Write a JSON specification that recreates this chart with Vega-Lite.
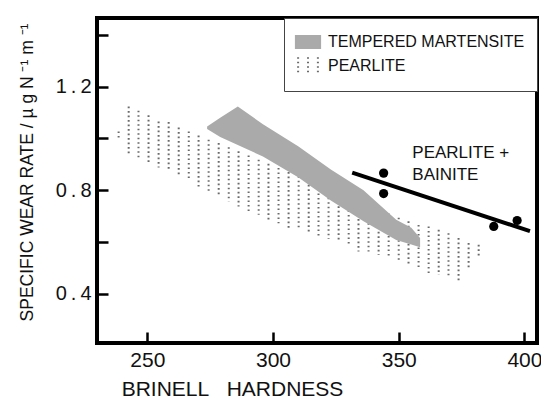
{
  "$schema": "https://vega.github.io/schema/vega-lite/v6.json",
  "width": 440,
  "height": 325,
  "autosize": "none",
  "padding": {"left": 97, "top": 18, "right": 4, "bottom": 56},
  "background": "white",
  "config": {
    "view": {"stroke": "black", "strokeWidth": 4},
    "font": "Liberation Sans",
    "axis": {
      "domain": false,
      "grid": false,
      "ticks": true,
      "tickColor": "black",
      "tickWidth": 2.5,
      "tickSize": 11,
      "offset": -11,
      "labelColor": "#111111",
      "titleColor": "#111111",
      "labelFont": "Liberation Sans",
      "titleFont": "Liberation Sans",
      "titleFontWeight": "normal"
    }
  },
  "datasets": {
    "pearlite": [
      {"hb": 238.6, "top": 1.027, "bottom": 1.001},
      {"hb": 242.6, "top": 1.123, "bottom": 0.943},
      {"hb": 246.5, "top": 1.107, "bottom": 0.924},
      {"hb": 250.5, "top": 1.089, "bottom": 0.905},
      {"hb": 254.5, "top": 1.065, "bottom": 0.888},
      {"hb": 258.5, "top": 1.063, "bottom": 0.872},
      {"hb": 262.5, "top": 1.042, "bottom": 0.853},
      {"hb": 266.5, "top": 1.027, "bottom": 0.84},
      {"hb": 270.4, "top": 1.011, "bottom": 0.814},
      {"hb": 274.4, "top": 0.995, "bottom": 0.795},
      {"hb": 278.4, "top": 0.982, "bottom": 0.776},
      {"hb": 282.4, "top": 0.966, "bottom": 0.756},
      {"hb": 286.3, "top": 0.95, "bottom": 0.737},
      {"hb": 290.3, "top": 0.934, "bottom": 0.718},
      {"hb": 294.3, "top": 0.918, "bottom": 0.705},
      {"hb": 298.2, "top": 0.902, "bottom": 0.686},
      {"hb": 302.2, "top": 0.886, "bottom": 0.672},
      {"hb": 306.2, "top": 0.87, "bottom": 0.654},
      {"hb": 310.2, "top": 0.854, "bottom": 0.645},
      {"hb": 314.2, "top": 0.838, "bottom": 0.632},
      {"hb": 318.1, "top": 0.822, "bottom": 0.622},
      {"hb": 322.1, "top": 0.806, "bottom": 0.612},
      {"hb": 326.1, "top": 0.79, "bottom": 0.6},
      {"hb": 330.1, "top": 0.774, "bottom": 0.583},
      {"hb": 334.0, "top": 0.758, "bottom": 0.563},
      {"hb": 338.0, "top": 0.742, "bottom": 0.563},
      {"hb": 342.0, "top": 0.726, "bottom": 0.55},
      {"hb": 346.0, "top": 0.71, "bottom": 0.538},
      {"hb": 350.0, "top": 0.694, "bottom": 0.531},
      {"hb": 353.9, "top": 0.68, "bottom": 0.512},
      {"hb": 357.9, "top": 0.666, "bottom": 0.499},
      {"hb": 361.9, "top": 0.66, "bottom": 0.48},
      {"hb": 365.9, "top": 0.647, "bottom": 0.473},
      {"hb": 369.8, "top": 0.634, "bottom": 0.46},
      {"hb": 373.8, "top": 0.615, "bottom": 0.447},
      {"hb": 377.8, "top": 0.596, "bottom": 0.493},
      {"hb": 381.8, "top": 0.589, "bottom": 0.544}
    ],
    "martensite": [
      {"hb": 273.8, "upper": 1.046, "lower": 1.036},
      {"hb": 279, "upper": 1.08, "lower": 1.005},
      {"hb": 286, "upper": 1.123, "lower": 0.975},
      {"hb": 296, "upper": 1.055, "lower": 0.93},
      {"hb": 310, "upper": 0.97, "lower": 0.85},
      {"hb": 323, "upper": 0.88, "lower": 0.76},
      {"hb": 336, "upper": 0.8, "lower": 0.68},
      {"hb": 349, "upper": 0.686, "lower": 0.608},
      {"hb": 355, "upper": 0.655, "lower": 0.59},
      {"hb": 358.5, "upper": 0.615, "lower": 0.58}
    ],
    "fit": [
      {"hb": 331.5, "rate": 0.868},
      {"hb": 402.2, "rate": 0.642}
    ],
    "bainite": [
      {"hb": 344, "rate": 0.866},
      {"hb": 344, "rate": 0.787},
      {"hb": 387.8, "rate": 0.66},
      {"hb": 397.1, "rate": 0.683}
    ]
  },
  "layer": [
    {
      "data": {"name": "pearlite"},
      "mark": {"type": "rule", "strokeWidth": 2, "strokeDash": [1.6, 2.9]},
      "encoding": {
        "x": {
          "field": "hb",
          "type": "quantitative",
          "scale": {"domain": [230, 405], "nice": false, "zero": false},
          "axis": {
            "values": [250, 300, 350, 400],
            "labelFontSize": 21,
            "labelPadding": 6,
            "title": "BRINELL\u00a0\u00a0\u00a0HARDNESS",
            "titleFontSize": 21,
            "titlePadding": 8,
            "titleX": 135,
            "titleAnchor": "middle"
          }
        },
        "y": {
          "field": "top",
          "type": "quantitative",
          "scale": {"domain": [0.21, 1.465], "nice": false, "zero": false},
          "axis": {
            "values": [0.4, 0.6, 0.8, 1.0, 1.2, 1.4],
            "labelExpr": "abs((datum.value * 10) % 4) < 0.01 ? replace(format(datum.value, '.1f'), '.', '\u2009.\u2009') : ''",
            "labelFontSize": 20,
            "labelPadding": 6,
            "title": "SPECIFIC WEAR RATE / \u00b5\u00a0g\u00a0N\u00a0\u207b\u00b9\u00a0m\u00a0\u207b\u00b9",
            "titleFontSize": 17.5,
            "titlePadding": 19,
            "titleY": 154
          }
        },
        "y2": {"field": "bottom"},
        "color": {
          "datum": "PEARLITE",
          "scale": {
            "domain": ["TEMPERED MARTENSITE", "PEARLITE"],
            "range": ["#aaaaaa", "#6a6a6a"]
          },
          "legend": {
            "title": null,
            "orient": "top-right",
            "offset": 0,
            "strokeColor": "#444444",
            "fillColor": "white",
            "padding": 12,
            "labelFont": "Liberation Sans",
            "labelFontSize": 16,
            "labelColor": "#111111",
            "labelOffset": 8,
            "labelLimit": 400,
            "symbolSize": 484,
            "rowPadding": 0,
            "encode": {
              "symbols": {
                "update": {
                  "shape": {"signal": "datum.value === 'PEARLITE' ? 'M-0.9,-0.8V0.8M0,-0.8V0.8M0.9,-0.8V0.8' : 'M-1.1,-0.55H1.1V0.55H-1.1Z'"},
                  "fill": {"signal": "datum.value === 'PEARLITE' ? 'transparent' : '#aaaaaa'"},
                  "stroke": {"signal": "datum.value === 'PEARLITE' ? '#6a6a6a' : 'transparent'"},
                  "strokeDash": {"signal": "datum.value === 'PEARLITE' ? [1.6, 2.9] : [1, 0]"},
                  "strokeWidth": {"value": 2},
                  "opacity": {"value": 1},
                  "fillOpacity": {"value": 1}
                }
              }
            }
          }
        }
      }
    },
    {
      "data": {"name": "martensite"},
      "mark": {"type": "area", "opacity": 1},
      "encoding": {
        "x": {"field": "hb", "type": "quantitative"},
        "y": {"field": "upper", "type": "quantitative"},
        "y2": {"field": "lower"},
        "color": {"datum": "TEMPERED MARTENSITE"}
      }
    },
    {
      "data": {"name": "fit"},
      "mark": {"type": "line", "color": "black", "strokeWidth": 4},
      "encoding": {
        "x": {"field": "hb", "type": "quantitative"},
        "y": {"field": "rate", "type": "quantitative"}
      }
    },
    {
      "data": {"name": "bainite"},
      "mark": {"type": "circle", "color": "black", "opacity": 1, "size": 85},
      "encoding": {
        "x": {"field": "hb", "type": "quantitative"},
        "y": {"field": "rate", "type": "quantitative"}
      }
    },
    {
      "data": {"values": [{}]},
      "mark": {
        "type": "text",
        "text": ["PEARLITE +", "BAINITE"],
        "align": "left",
        "baseline": "alphabetic",
        "fontSize": 17,
        "lineHeight": 22,
        "font": "Liberation Sans",
        "color": "#111111"
      },
      "encoding": {
        "x": {"datum": 355.4},
        "y": {"datum": 0.925}
      }
    }
  ]
}
